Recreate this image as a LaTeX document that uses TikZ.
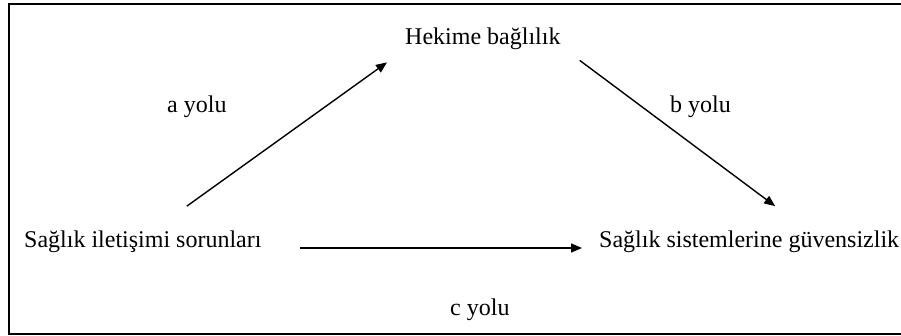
\documentclass[tikz,border=0pt]{standalone}
\usepackage{fontspec}
\setmainfont{Liberation Serif}
\usetikzlibrary{arrows.meta}

\begin{document}
\begin{tikzpicture}[x=1pt,y=1pt,>={Triangle[length=11pt,width=9pt]},
  every node/.style={inner sep=2pt,font=\fontsize{24}{28}\selectfont},
  yolok/.style={->,line width=1.4pt}]
  \useasboundingbox (0,0) rectangle (901,336);
  % frame (right side runs off the page)
  \draw[line width=1.8pt] (9,2) rectangle (914,332);
  \def\yb{88}
  \node[anchor=base west] (hekim) at (403,291) {Hekime bağlılık};
  \node[anchor=base west] (sorun) at (22,\yb) {Sağlık iletişimi sorunları};
  \node[anchor=base west] (guven) at (597,\yb) {Sağlık sistemlerine güvensizlik};
  \node[anchor=base west] (ayol) at (165,223) {a yolu};
  \node[anchor=base west] (byol) at (668,223) {b yolu};
  \node[anchor=base west] (cyol) at (448,20) {c yolu};
  % paths
  \draw[yolok] ([shift={(44,23)}]sorun.north) -- ([shift={(-16,-10)}]hekim.south west);
  \draw[yolok] ([shift={(17,-8)}]hekim.south east) -- ([shift={(26,23)}]guven.north);
  \draw[yolok,shorten <=36pt,shorten >=15pt] (sorun.base east) -- (guven.base west);
\end{tikzpicture}
\end{document}
